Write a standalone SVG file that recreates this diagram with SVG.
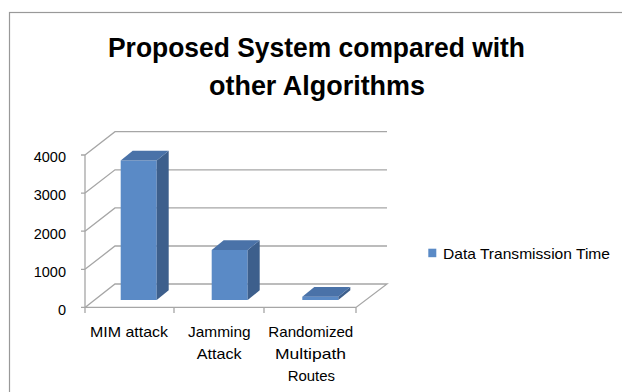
<svg xmlns="http://www.w3.org/2000/svg" width="622" height="392" viewBox="0 0 622 392">
<style>
.t{font-family:"Liberation Sans",Arial,sans-serif;fill:#000}
.title{font-size:27px;font-weight:bold;text-anchor:middle}
.ax{font-size:14.5px;text-anchor:end}
.cat{font-size:15px;text-anchor:middle}
.grid{stroke:#a6a6a6;stroke-width:1.3;fill:none}
.front{fill:#5a8ac6}
.side{fill:#3d5f8c}
.top{fill:#4a72a8}
</style>
<rect x="9.5" y="12.5" width="640" height="400" fill="#fff" stroke="#999" stroke-width="1.2"/>
<g id="title">
<text class="t title" x="316.5" y="57" textLength="417" lengthAdjust="spacingAndGlyphs">Proposed System compared with</text>
<text class="t title" x="317" y="95" textLength="216" lengthAdjust="spacingAndGlyphs">other Algorithms</text>
</g>
<g id="axes" class="grid">
<path d="M85 155 L115 131.7 H387 M85 193.1 L115 169.8 H387 M85 231.2 L115 207.9 H387 M85 269.3 L115 246 H387 M85 307.4 L115 284 H387 L356 307.4 H85"/>
<path d="M85 155 V313 M81 155 H85 M81 193.1 H85 M81 231.2 H85 M81 269.3 H85 M81 307.4 H85 M174 307.4 V313 M264 307.4 V313 M356 307.4 V313"/>
</g>
<g id="y-labels">
<text class="t ax" x="66" y="162.3">4000</text>
<text class="t ax" x="66" y="200.4">3000</text>
<text class="t ax" x="66" y="238.5">2000</text>
<text class="t ax" x="66" y="276.6">1000</text>
<text class="t ax" x="66" y="314.7">0</text>
</g>
<g id="bar-mim">
<rect class="front" x="120.7" y="160.5" width="36" height="139.5"/>
<polygon class="side" points="156.7,160.5 168.7,150.8 168.7,290.3 156.7,300"/>
<polygon class="top" points="120.7,160.5 132.7,150.8 168.7,150.8 156.7,160.5"/>
</g>
<g id="bar-jamming">
<rect class="front" x="211.7" y="250" width="36" height="50"/>
<polygon class="side" points="247.7,250 259.7,240.3 259.7,290.3 247.7,300"/>
<polygon class="top" points="211.7,250 223.7,240.3 259.7,240.3 247.7,250"/>
</g>
<g id="bar-randomized">
<rect class="front" x="302.3" y="296.7" width="36" height="3.3"/>
<polygon class="side" points="338.3,296.7 350.3,287 350.3,290.3 338.3,300"/>
<polygon class="top" points="302.3,296.7 314.3,287 350.3,287 338.3,296.7"/>
</g>
<g id="x-labels">
<text class="t cat" x="129" y="336.5" textLength="78" lengthAdjust="spacingAndGlyphs">MIM attack</text>
<text class="t cat" x="219.3" y="336.5" textLength="62.7" lengthAdjust="spacingAndGlyphs">Jamming</text>
<text class="t cat" x="219.2" y="359" textLength="45" lengthAdjust="spacingAndGlyphs">Attack</text>
<text class="t cat" x="310.8" y="336.5" textLength="85" lengthAdjust="spacingAndGlyphs">Randomized</text>
<text class="t cat" x="310.5" y="359" textLength="71" lengthAdjust="spacingAndGlyphs">Multipath</text>
<text class="t cat" x="311.3" y="381" textLength="47.3" lengthAdjust="spacingAndGlyphs">Routes</text>
</g>
<g id="legend">
<rect x="428.3" y="248.7" width="8" height="8.5" fill="#5a8ac6"/>
<text class="t" x="443" y="258.5" font-size="15" textLength="167" lengthAdjust="spacingAndGlyphs">Data Transmission Time</text>
</g>
</svg>
